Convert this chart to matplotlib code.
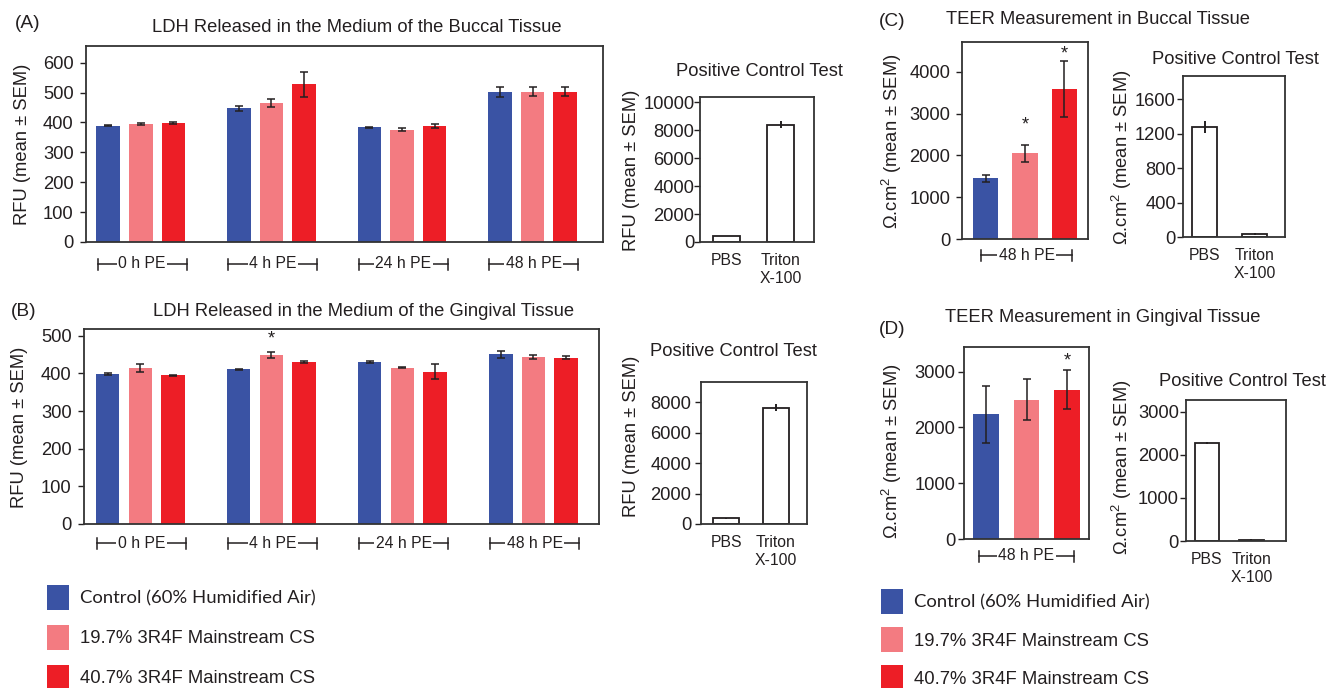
import matplotlib
matplotlib.use('Agg')
import matplotlib.pyplot as plt
import numpy as np
from matplotlib import font_manager
from matplotlib.font_manager import FontProperties
from matplotlib.transforms import blended_transform_factory

# ---------------- data ----------------
time_points = ['0 h PE', '4 h PE', '24 h PE', '48 h PE']
teer_time = ['48 h PE']
series_labels = ['Control (60% Humidified Air)', '19.7% 3R4F Mainstream CS',
                 '40.7% 3R4F Mainstream CS']
pc_labels = ['PBS', 'Triton\nX-100']

# (A) LDH buccal
buccal_ldh_control = [389, 447, 384, 503]
buccal_ldh_cs19 = [395, 465, 376, 503]
buccal_ldh_cs40 = [398, 528, 387, 503]
buccal_ldh_control_sem = [2, 8, 2, 17]
buccal_ldh_cs19_sem = [2, 14, 4, 16]
buccal_ldh_cs40_sem = [2, 42, 7, 16]
buccal_ldh_pc = [430, 8400]
buccal_ldh_pc_sem = [20, 260]

# (B) LDH gingival
gingival_ldh_control = [398, 411, 431, 451]
gingival_ldh_cs19 = [414, 449, 415, 444]
gingival_ldh_cs40 = [395, 431, 405, 442]
gingival_ldh_control_sem = [2, 1, 3, 9]
gingival_ldh_cs19_sem = [10, 7, 1, 6]
gingival_ldh_cs40_sem = [2, 3, 19, 4]
gingival_ldh_cs19_sig = [False, True, False, False]
gingival_ldh_pc = [370, 7650]
gingival_ldh_pc_sem = [15, 250]

# (C) TEER buccal
teer_buccal = [1455, 2052, 3586]
teer_buccal_sem = [80, 207, 672]
teer_buccal_sig = [False, True, True]
teer_buccal_pc = [1275, 31]
teer_buccal_pc_sem = [66, 10]

# (D) TEER gingival
teer_gingival = [2235, 2498, 2677]
teer_gingival_sem = [508, 370, 355]
teer_gingival_sig = [False, False, True]
teer_gingival_pc = [2277, 31]
teer_gingival_pc_sem = [30, 10]

# ---------------- style ----------------
W, H = 1329, 688
INK = '#231F20'
COLORS = ['#3A53A4', '#F37B81', '#ED1E26']


def has_font(name):
    try:
        font_manager.findfont(FontProperties(family=name), fallback_to_default=False)
        return True
    except Exception:
        return False


NARROW = 'Liberation Sans Narrow' if has_font('Liberation Sans Narrow') else 'Liberation Sans'
NARROW_SIZE = 13.2 if NARROW == 'Liberation Sans Narrow' else 11.3
LEG_FONT = 'Lato' if has_font('Lato') else 'Liberation Sans'

plt.rcParams['font.family'] = ['Liberation Sans', 'DejaVu Sans']
plt.rcParams['mathtext.fontset'] = 'custom'
plt.rcParams['mathtext.rm'] = 'Liberation Sans'
plt.rcParams['mathtext.it'] = 'Liberation Sans:italic'
plt.rcParams['text.color'] = INK
plt.rcParams['axes.edgecolor'] = '#333333'
plt.rcParams['xtick.color'] = INK
plt.rcParams['ytick.color'] = INK

FS = 13.2

fig = plt.figure(figsize=(W / 100, H / 100), dpi=100)


def px_axes(l, t, r, b):
    return fig.add_axes([l / W, 1 - b / H, (r - l) / W, (b - t) / H])


def ftext(x, y, s, **kw):
    kw.setdefault('fontsize', FS)
    kw.setdefault('ha', 'center')
    kw.setdefault('va', 'center')
    return fig.text(x / W, 1 - y / H, s, **kw)


def style_axes(ax, ylim, yticks, xlim, pad):
    ax.set_ylim(*ylim)
    ax.set_xlim(*xlim)
    ax.set_yticks(yticks)
    ax.tick_params(axis='y', direction='out', length=4, width=1, pad=pad, labelsize=FS)
    ax.tick_params(axis='x', length=0)
    for s in ax.spines.values():
        s.set_linewidth(1.3)
        s.set_color('#333333')


def bracket(ax, x0, x1, label, below_px):
    trans = blended_transform_factory(ax.transData, ax.transAxes)
    axh = ax.get_position().height * H
    y = -below_px / axh
    cap = 5.5 / axh
    kw = dict(transform=trans, color=INK, lw=1.1, clip_on=False, zorder=4)
    ax.plot([x0, x1], [y, y], **kw)
    ax.plot([x0, x0], [y - cap, y + cap], **kw)
    ax.plot([x1, x1], [y - cap, y + cap], **kw)
    ax.text((x0 + x1) / 2, y, label, transform=trans, ha='center', va='center',
            fontsize=NARROW_SIZE, family=[NARROW, 'Liberation Sans'], clip_on=False, zorder=5,
            bbox=dict(facecolor='white', edgecolor='none', pad=1.0))


def star(ax, x, y, offset_px=10):
    ax.annotate('*', xy=(x, y), xytext=(0, offset_px * 0.72), textcoords='offset points',
                ha='center', va='center', fontsize=FS, color=INK)


def ldh_panel(ax, values, sems, sigs):
    x = np.arange(len(time_points))
    offs = [-0.25, 0.0, 0.25]
    bars = []
    for i, (v, e) in enumerate(zip(values, sems)):
        b = ax.bar(x + offs[i], v, width=0.18, color=COLORS[i], edgecolor='none',
                   label=series_labels[i], zorder=2)
        ax.errorbar(x + offs[i], v, yerr=e, fmt='none', ecolor=INK, elinewidth=1.1,
                    capsize=2.6, capthick=1.1, zorder=3)
        bars.append(b)
        if sigs[i] is not None:
            for xi, vi, ei, si in zip(x + offs[i], v, e, sigs[i]):
                if si:
                    star(ax, xi, vi + ei, 13)
    ax.set_xticks([])
    return bars


def pc_panel(ax, values, sems, width):
    x = np.arange(len(pc_labels))
    ax.bar(x, values, width=width, facecolor='white', edgecolor=INK, linewidth=1.3, zorder=2)
    ax.errorbar(x, values, yerr=sems, fmt='none', ecolor=INK, elinewidth=1.4, capsize=0, zorder=3)
    ax.set_xticks(x)
    ax.set_xticklabels(pc_labels, fontsize=NARROW_SIZE, family=[NARROW, 'Liberation Sans'])
    ax.tick_params(axis='x', length=0, pad=8)


def teer_panel(ax, values, sems, sigs, offsets):
    x = np.arange(len(values))
    ax.bar(x, values, width=0.64, color=COLORS, edgecolor='none', zorder=2)
    ax.errorbar(x, values, yerr=sems, fmt='none', ecolor=INK, elinewidth=1.1,
                capsize=2.6, capthick=1.1, zorder=3)
    for xi, vi, ei, si, oi in zip(x, values, sems, sigs, offsets):
        if si:
            star(ax, xi, vi + ei, oi)
    ax.set_xticks([])


# ---------------- (A) ----------------
axA = px_axes(86, 46, 603, 242)
barsA = ldh_panel(axA, [buccal_ldh_control, buccal_ldh_cs19, buccal_ldh_cs40],
                  [buccal_ldh_control_sem, buccal_ldh_cs19_sem, buccal_ldh_cs40_sem],
                  [None, None, None])
style_axes(axA, (0, 656), range(0, 601, 100), (-0.42, 3.54), 5)
for i, t in enumerate(time_points):
    bracket(axA, i - 0.33, i + 0.35, t, 22)
ftext(28, 23, '(A)', fontsize=13.8)
ftext(357, 28, 'LDH Released in the Medium of the Buccal Tissue')
ftext(23, 144, 'RFU (mean ± SEM)', rotation=90)

axApc = px_axes(700, 97, 814, 242)
pc_panel(axApc, buccal_ldh_pc, buccal_ldh_pc_sem, 0.5)
style_axes(axApc, (0, 10382), range(0, 10001, 2000), (-0.49, 1.62), 0)
axApc.tick_params(axis='x', length=0, pad=8)
ftext(759, 71, 'Positive Control Test')
ftext(632, 170, 'RFU (mean ± SEM)', rotation=90)

# ---------------- (B) ----------------
axB = px_axes(84, 329, 599, 524)
ldh_panel(axB, [gingival_ldh_control, gingival_ldh_cs19, gingival_ldh_cs40],
          [gingival_ldh_control_sem, gingival_ldh_cs19_sem, gingival_ldh_cs40_sem],
          [None, gingival_ldh_cs19_sig, None])
style_axes(axB, (0, 518), range(0, 501, 100), (-0.43, 3.50), 5)
for i, t in enumerate(time_points):
    bracket(axB, i - 0.33, i + 0.35, t, 19)
ftext(24, 312, '(B)', fontsize=13.8)
ftext(364, 312, 'LDH Released in the Medium of the Gingival Tissue')
ftext(20, 427, 'RFU (mean ± SEM)', rotation=90)

axBpc = px_axes(701, 382, 807, 524)
pc_panel(axBpc, gingival_ldh_pc, gingival_ldh_pc_sem, 0.52)
style_axes(axBpc, (0, 9330), range(0, 8001, 2000), (-0.5, 1.62), 3)
axBpc.tick_params(axis='x', length=0, pad=8)
ftext(733, 352, 'Positive Control Test')
ftext(632, 436, 'RFU (mean ± SEM)', rotation=90)

# ---------------- (C) ----------------
axC = px_axes(962, 42, 1088, 239)
teer_panel(axC, teer_buccal, teer_buccal_sem, teer_buccal_sig, [0, 20, 7])
style_axes(axC, (0, 4716), range(0, 4001, 1000), (-0.6, 2.6), 4.3)
bracket(axC, -0.11, 2.2, teer_time[0], 16)
ftext(892, 22, '(C)', fontsize=13.8)
ftext(1098, 20, 'TEER Measurement in Buccal Tissue')
ftext(892, 141, r'$\Omega$.cm$^{2}$ (mean ± SEM)', rotation=90)

axCpc = px_axes(1183, 76, 1285, 237)
pc_panel(axCpc, teer_buccal_pc, teer_buccal_pc_sem, 0.5)
style_axes(axCpc, (0, 1867), range(0, 1601, 400), (-0.44, 1.61), 1.2)
axCpc.tick_params(axis='x', length=0, pad=8)
ftext(1235, 59, 'Positive Control Test')
ftext(1122, 157, r'$\Omega$.cm$^{2}$ (mean ± SEM)', rotation=90)

# ---------------- (D) ----------------
axD = px_axes(964, 347, 1089, 539)
teer_panel(axD, teer_gingival, teer_gingival_sem, teer_gingival_sig, [0, 0, 9])
style_axes(axD, (0, 3442), range(0, 3001, 1000), (-0.54, 2.54), 2.4)
bracket(axD, -0.16, 2.16, teer_time[0], 17)
ftext(892, 330, '(D)', fontsize=13.8)
ftext(1103, 317, 'TEER Measurement in Gingival Tissue')
ftext(892, 451, r'$\Omega$.cm$^{2}$ (mean ± SEM)', rotation=90)

axDpc = px_axes(1186, 400, 1286, 541)
pc_panel(axDpc, teer_gingival_pc, teer_gingival_pc_sem, 0.55)
style_axes(axDpc, (0, 3272), range(0, 3001, 1000), (-0.47, 1.78), 1.2)
axDpc.tick_params(axis='x', length=0, pad=8)
ftext(1242, 381, 'Positive Control Test')
ftext(1122, 467, r'$\Omega$.cm$^{2}$ (mean ± SEM)', rotation=90)

# ---------------- legends ----------------
fs_leg = 13.3
fs_px = fs_leg / 0.72


def add_legend(left_px, top_px, spacing):
    leg = fig.legend(handles=barsA, labels=series_labels, loc='upper left',
                     bbox_to_anchor=(left_px / W, 1 - top_px / H), frameon=False,
                     borderpad=0, borderaxespad=0, fontsize=fs_leg,
                     handlelength=22 / fs_px, handleheight=1.70,
                     handletextpad=11 / fs_px, labelspacing=spacing)
    leg.get_texts()[0].set_family([LEG_FONT, 'Liberation Sans'])
    for t in leg.get_texts():
        t.set_color(INK)
    return leg


add_legend(46.7, 585, 0.81)
add_legend(880.7, 589, 0.71)

fig.savefig('out.png', dpi=100)
